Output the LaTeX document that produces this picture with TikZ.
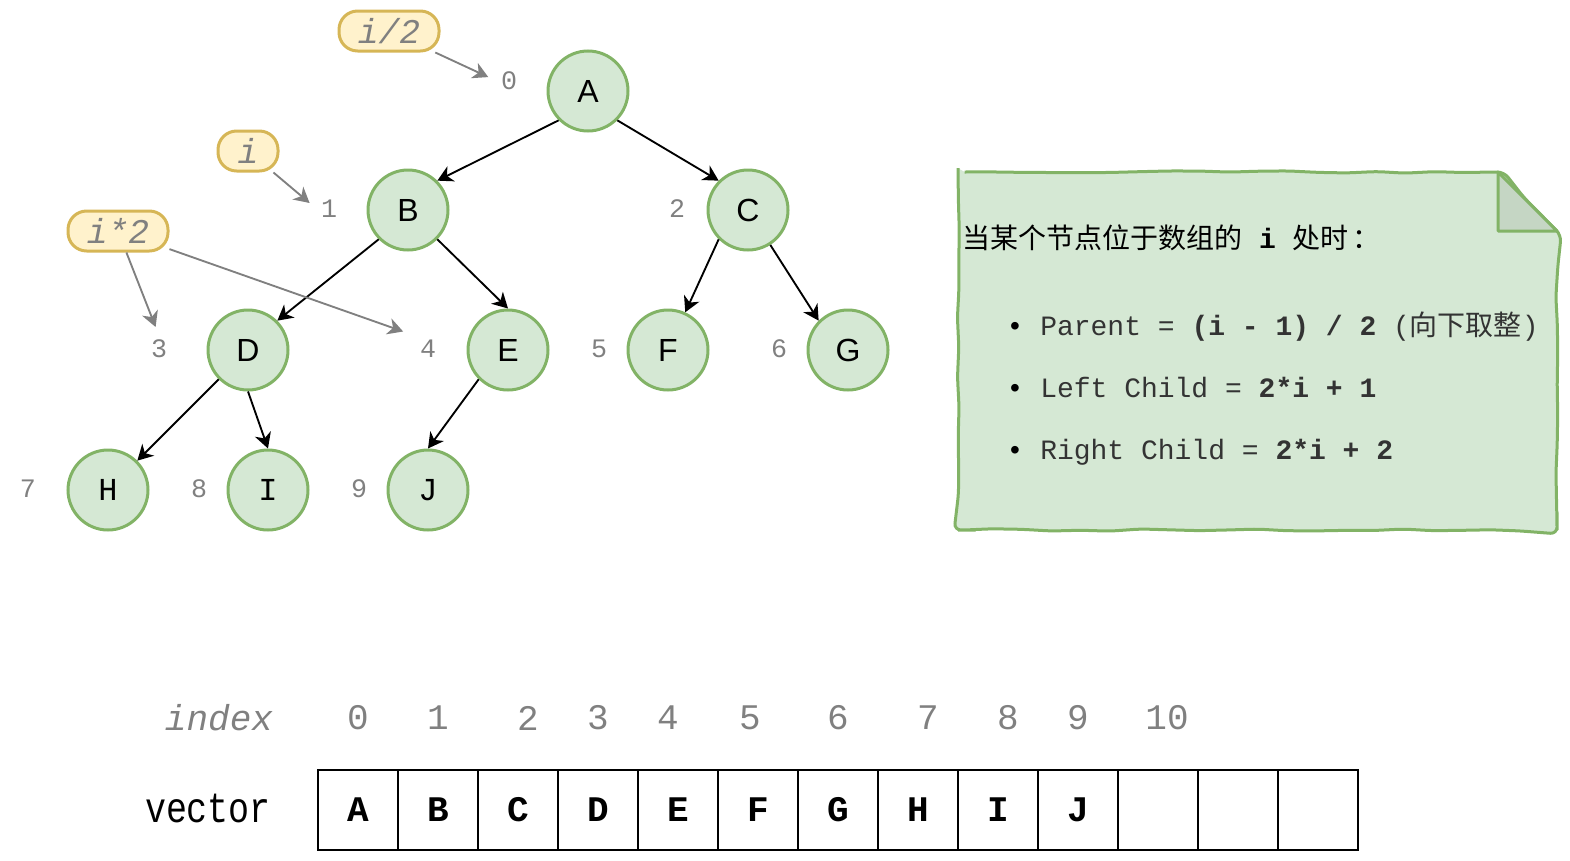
\documentclass[tikz,border=0pt]{standalone}
\usepackage{fontspec}
\setmainfont{Liberation Sans}
\setmonofont{Liberation Mono}
\newfontfamily\cjk{Noto Sans CJK SC}
\newfontfamily\vecfont[FakeStretch=0.82]{Liberation Mono}
\usetikzlibrary{arrows.meta,decorations.pathmorphing}

\definecolor{nodefill}{HTML}{D5E8D4}
\definecolor{nodeline}{HTML}{82B366}
\definecolor{foldfill}{HTML}{C5D6C4}
\definecolor{pillfill}{HTML}{FFF2CC}
\definecolor{pillline}{HTML}{D6B656}
\definecolor{idxgray}{HTML}{808080}
\definecolor{notegray}{HTML}{333333}

\tikzset{
    treenode/.style={circle, draw=nodeline, fill=nodefill, line width=2.25pt,
        minimum size=60pt, inner sep=0pt, font=\fontsize{24}{28}\selectfont},
    leafnode/.style={treenode, font=\ttfamily\fontsize{24}{28}\selectfont},
    treeidx/.style={inner sep=3pt, text=idxgray, font=\ttfamily\fontsize{20}{24}\selectfont},
    pill/.style={draw=pillline, fill=pillfill, line width=2.25pt, rounded corners=14pt,
        minimum height=30pt, inner sep=0pt, text=idxgray,
        font=\ttfamily\itshape\fontsize{26}{30}\selectfont},
    treeedge/.style={line width=1.4pt, -{Stealth[length=11.5pt,width=12.5pt,inset=3.5pt]}},
    idxarrow/.style={draw=idxgray, line width=1.4pt, shorten >=7pt,
        -{Stealth[length=11.5pt,width=12.5pt,inset=3.5pt]}},
    notebox/.style={draw=nodeline, fill=nodefill, line width=2.25pt, rounded corners=5pt,
        decorate, decoration={random steps, segment length=22pt, amplitude=1pt}},
    notetext/.style={anchor=base west, inner sep=0pt, text=notegray,
        font=\ttfamily\fontsize{21}{25}\selectfont},
    cell/.style={draw, line width=1.1pt, minimum size=60pt, inner sep=0pt,
        font=\ttfamily\bfseries\fontsize{27}{30}\selectfont},
    rowidx/.style={inner sep=0pt, text=idxgray, font=\ttfamily\fontsize{27}{32}\selectfont}
}

\begin{document}
\begin{tikzpicture}[x=0.75pt, y=-0.75pt]
        \useasboundingbox (0,0) rectangle (1570,860);

        % tree
        \node[treenode] (A) at (588,91) {A};
        \node[treenode] (B) at (408,210) {B};
        \node[treenode] (C) at (748,210) {C};
        \node[treenode] (D) at (248,350) {D};
        \node[treenode] (E) at (508,350) {E};
        \node[treenode] (F) at (668,350) {F};
        \node[treenode] (G) at (848,350) {G};
        \node[leafnode] (H) at (108,490) {H};
        \node[leafnode] (I) at (268,490) {I};
        \node[leafnode] (J) at (428,490) {J};

        \draw [treeedge] (A.south west) -- (B.north east);
        \draw [treeedge] (A.south east) -- (C.north west);
        \draw [treeedge] (B.south west) -- (D.north east);
        \draw [treeedge] (B.south east) -- (E.north);
        \draw [treeedge] (C.south west) -- (F);
        \draw [treeedge] (C) -- (G.north west);
        \draw [treeedge] (D.south west) -- (H.north east);
        \draw [treeedge] (D.south) -- (I.north);
        \draw [treeedge] (E.south west) -- (J.north);

        % indices beside the tree
        \node[treeidx] (lzero) at (509,81) {0};
        \node[treeidx] (lone) at (329,209) {1};
        \node[treeidx] (ltwo) at (677,209) {2};
        \node[treeidx] (lthree) at (159,349) {3};
        \node[treeidx] (lfour) at (428,349) {4};
        \node[treeidx] (lfive) at (599,349) {5};
        \node[treeidx] (lsix) at (779,349) {6};
        \node[treeidx] (lseven) at (28,489) {7};
        \node[treeidx] (leight) at (199,489) {8};
        \node[treeidx] (lnine) at (359,489) {9};

        \node[pill, minimum width=75pt] (half) at (389,31) {i/2};
        \node[pill, minimum width=45pt] (same) at (248,151) {i};
        \node[pill, minimum width=75pt] (double) at (118,231) {i*2};

        \draw [idxarrow] (half) -- (lzero.west);
        \draw [idxarrow] (same) -- (lone.west);
        \draw [idxarrow] (double) -- (lthree.north);
        \draw [idxarrow, shorten >=10pt] (double) -- (lfour.north west);

        % note
        \pgfmathsetseed{11}
        \draw [notebox] (958,172) -- (1498,172) -- (1557,231) -- (1557,530) -- (958,530) -- cycle;
        \draw [draw=nodeline, fill=foldfill, line width=2.25pt, line join=round]
            (1498,172) -- (1498,231) -- (1557,231) -- cycle;

        \node[anchor=base west, inner sep=0pt, font=\fontsize{21}{25}\selectfont] (hdr) at (962,248)
            {\cjk 当某个节点位于数组的{\ttfamily\bfseries\ i\ }处时\hspace{3pt}：};
        \node[anchor=base, inner sep=0pt, font=\fontsize{21}{25}\selectfont] (dotone) at (1015,335) {\textbullet};
        \node[anchor=base, inner sep=0pt, font=\fontsize{21}{25}\selectfont] (dottwo) at (1015,397) {\textbullet};
        \node[anchor=base, inner sep=0pt, font=\fontsize{21}{25}\selectfont] (dotthree) at (1015,459) {\textbullet};
        \node[notetext] (parent) at (1040,335) {Parent = \textbf{(i - 1) / 2} ({\cjk 向下取整})};
        \node[notetext] (lchild) at (1040,397) {Left Child = \textbf{2*i + 1}};
        \node[notetext] (rchild) at (1040,459) {Right Child = \textbf{2*i + 2}};

        % index row
        \node[rowidx, font=\ttfamily\itshape\fontsize{27}{32}\selectfont] (idxname) at (219,718) {index};
        \node[rowidx] (izero) at (358,718) {0};
        \node[rowidx] (ione) at (438,718) {1};
        \node[rowidx] (itwo) at (528,718) {2};
        \node[rowidx] (ithree) at (598,718) {3};
        \node[rowidx] (ifour) at (668,718) {4};
        \node[rowidx] (ifive) at (750,718) {5};
        \node[rowidx] (isix) at (838,718) {6};
        \node[rowidx] (iseven) at (928,718) {7};
        \node[rowidx] (ieight) at (1008,718) {8};
        \node[rowidx] (inine) at (1078,718) {9};
        \node[rowidx] (iten) at (1167,718) {10};

        % vector row
        \node[inner sep=0pt, font=\vecfont\fontsize{32}{36}\selectfont] (vecname) at (208,808) {vector};
        \node[cell] (cA) at (358,810) {A};
        \node[cell] (cB) at (438,810) {B};
        \node[cell] (cC) at (518,810) {C};
        \node[cell] (cD) at (598,810) {D};
        \node[cell] (cE) at (678,810) {E};
        \node[cell] (cF) at (758,810) {F};
        \node[cell] (cG) at (838,810) {G};
        \node[cell] (cH) at (918,810) {H};
        \node[cell] (cI) at (998,810) {I};
        \node[cell] (cJ) at (1078,810) {J};
        \node[cell] (cK) at (1158,810) {};
        \node[cell] (cL) at (1238,810) {};
        \node[cell] (cM) at (1318,810) {};
\end{tikzpicture}
\end{document}
